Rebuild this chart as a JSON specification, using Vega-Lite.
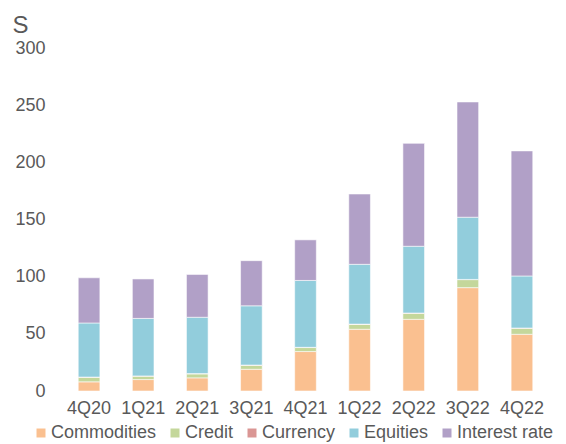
{
  "$schema": "https://vega.github.io/schema/vega-lite/v6.json",
  "autosize": "none",
  "width": 487,
  "height": 343,
  "padding": {"left": 62, "top": 48, "right": 17, "bottom": 53},
  "background": "white",
  "data": {"values": [
    {"q":"4Q20","type":"Commodities","v":8},{"q":"4Q20","type":"Credit","v":4},{"q":"4Q20","type":"Currency","v":0.2},{"q":"4Q20","type":"Equities","v":47.3},{"q":"4Q20","type":"Interest rate","v":39.5},
    {"q":"1Q21","type":"Commodities","v":10},{"q":"1Q21","type":"Credit","v":3},{"q":"1Q21","type":"Currency","v":0.2},{"q":"1Q21","type":"Equities","v":50.3},{"q":"1Q21","type":"Interest rate","v":34.5},
    {"q":"2Q21","type":"Commodities","v":11.5},{"q":"2Q21","type":"Credit","v":3.5},{"q":"2Q21","type":"Currency","v":0.2},{"q":"2Q21","type":"Equities","v":49.3},{"q":"2Q21","type":"Interest rate","v":37.5},
    {"q":"3Q21","type":"Commodities","v":19},{"q":"3Q21","type":"Credit","v":3.5},{"q":"3Q21","type":"Currency","v":0.2},{"q":"3Q21","type":"Equities","v":51.8},{"q":"3Q21","type":"Interest rate","v":39.5},
    {"q":"4Q21","type":"Commodities","v":34.5},{"q":"4Q21","type":"Credit","v":3.5},{"q":"4Q21","type":"Currency","v":0.2},{"q":"4Q21","type":"Equities","v":58.5},{"q":"4Q21","type":"Interest rate","v":35.5},
    {"q":"1Q22","type":"Commodities","v":54},{"q":"1Q22","type":"Credit","v":4.3},{"q":"1Q22","type":"Currency","v":0.2},{"q":"1Q22","type":"Equities","v":52.3},{"q":"1Q22","type":"Interest rate","v":61.5},
    {"q":"2Q22","type":"Commodities","v":62.7},{"q":"2Q22","type":"Credit","v":5.3},{"q":"2Q22","type":"Currency","v":0.2},{"q":"2Q22","type":"Equities","v":58.4},{"q":"2Q22","type":"Interest rate","v":90},
    {"q":"3Q22","type":"Commodities","v":90.4},{"q":"3Q22","type":"Credit","v":7},{"q":"3Q22","type":"Currency","v":0.2},{"q":"3Q22","type":"Equities","v":54.4},{"q":"3Q22","type":"Interest rate","v":100.8},
    {"q":"4Q22","type":"Commodities","v":49.6},{"q":"4Q22","type":"Credit","v":5.3},{"q":"4Q22","type":"Currency","v":0.2},{"q":"4Q22","type":"Equities","v":45.5},{"q":"4Q22","type":"Interest rate","v":109.4}
  ]},
  "mark": {"type": "bar", "stroke": "white", "strokeWidth": 0.8, "strokeOpacity": 0.7},
  "encoding": {
    "x": {
      "field": "q", "type": "nominal", "sort": null,
      "scale": {"paddingInner": 0.6, "paddingOuter": 0.3},
      "axis": {"title": null, "labelAngle": 0, "domain": false, "ticks": false, "labelPadding": 8,
               "labelFont": "Liberation Sans", "labelFontSize": 18, "labelColor": "#595959"}
    },
    "y": {
      "field": "v", "type": "quantitative", "stack": "zero",
      "scale": {"domain": [0, 300], "nice": false},
      "axis": {"values": [0, 50, 100, 150, 200, 250, 300], "grid": false, "domain": false, "ticks": false,
               "labelPadding": 17, "labelFont": "Liberation Sans", "labelFontSize": 18, "labelColor": "#595959",
               "title": "S", "titleAngle": 0, "titleAlign": "left", "titleBaseline": "alphabetic",
               "titleX": -50, "titleY": -16, "titleFont": "Liberation Sans", "titleFontSize": 24,
               "titleFontWeight": "normal", "titleColor": "#595959"}
    },
    "color": {
      "field": "type", "type": "nominal",
      "scale": {"domain": ["Commodities", "Credit", "Currency", "Equities", "Interest rate"],
                "range": ["#FAC090", "#C4D79B", "#DA9694", "#92CDDC", "#B1A0C7"]},
      "legend": {"title": null, "orient": "none", "direction": "horizontal", "legendX": -30, "legendY": 376,
                 "padding": 0, "symbolType": "square", "symbolSize": 81, "symbolStrokeWidth": 0, "labelOffset": 1,
                 "columnPadding": 9, "labelFont": "Liberation Sans", "labelFontSize": 18, "labelColor": "#595959"}
    },
    "order": {"field": "type", "sort": "ascending"}
  },
  "config": {"view": {"stroke": null}}
}
